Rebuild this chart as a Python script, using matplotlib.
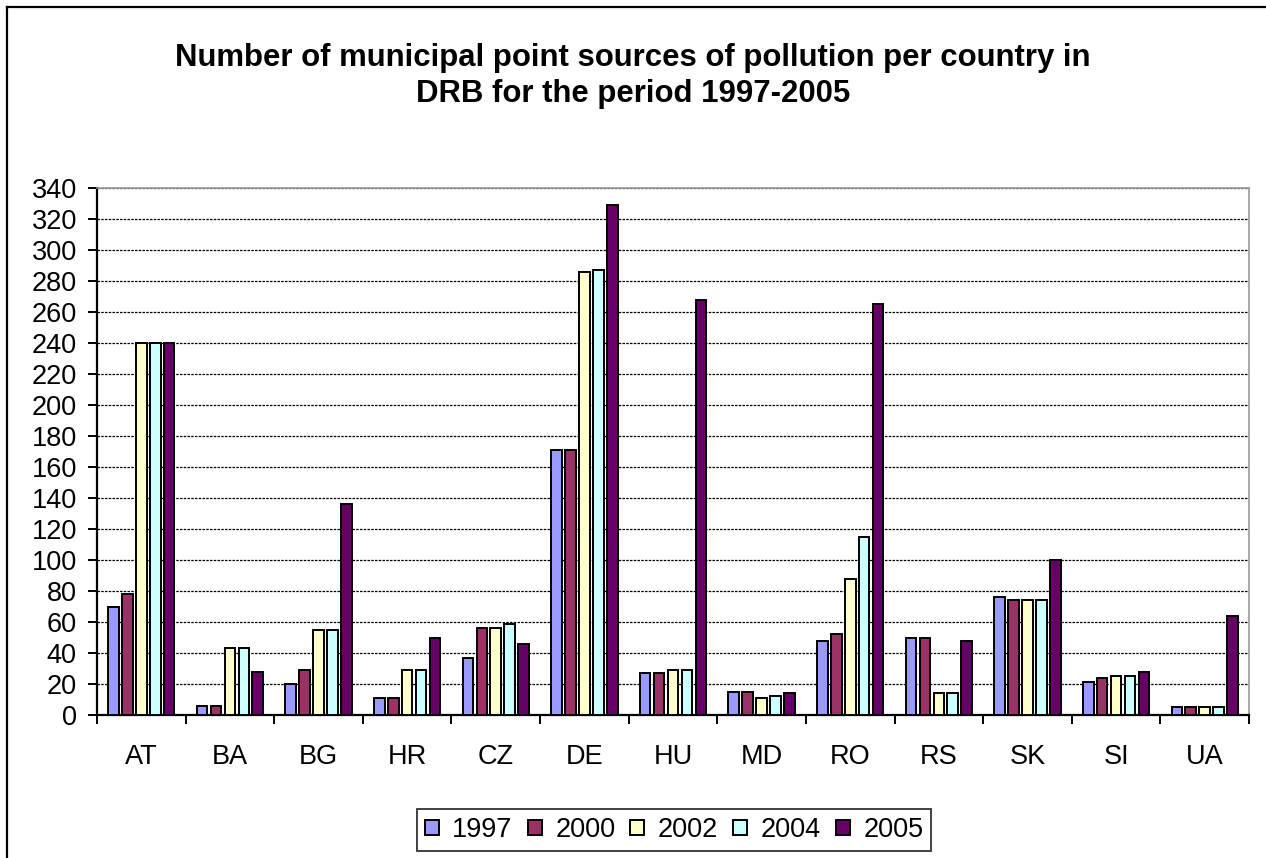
import numpy as np
import matplotlib
matplotlib.use("Agg")
import matplotlib.pyplot as plt
from matplotlib.lines import Line2D

plt.rcParams['font.family'] = ['Liberation Sans', 'DejaVu Sans']

countries = ["AT", "BA", "BG", "HR", "CZ", "DE", "HU", "MD", "RO", "RS", "SK", "SI", "UA"]
years = ["1997", "2000", "2002", "2004", "2005"]

v1997 = [70, 6, 20, 11, 37, 171, 27, 15, 48, 50, 76, 21, 5]
v2000 = [78, 6, 29, 11, 56, 171, 27, 15, 52, 50, 74, 24, 5]
v2002 = [240, 43, 55, 29, 56, 286, 29, 11, 88, 14, 74, 25, 5]
v2004 = [240, 43, 55, 29, 59, 287, 29, 12, 115, 14, 74, 25, 5]
v2005 = [240, 28, 136, 50, 46, 329, 268, 14, 265, 48, 100, 28, 64]

series = [v1997, v2000, v2002, v2004, v2005]
colors = ["#9999FF", "#993366", "#FFFFCC", "#CCFFFF", "#660066"]

W, H = 1266, 858
fig = plt.figure(figsize=(W / 100, H / 100), dpi=100)

# chart frame: only left and top edges fall inside the picture
fig.add_artist(Line2D([7 / W, 7 / W], [0, 1 - 7 / H], transform=fig.transFigure,
                      color="black", linewidth=1.6))
fig.add_artist(Line2D([7 / W, 1], [1 - 7 / H, 1 - 7 / H], transform=fig.transFigure,
                      color="black", linewidth=1.6))

ax = fig.add_axes([97 / W, 1 - 715 / H, (1249 - 97) / W, (715 - 188) / H])

x = np.arange(len(countries))
step = 0.157
bw = 0.12
for i, (vals, c) in enumerate(zip(series, colors)):
    ax.bar(x + (i - 2) * step, vals, width=bw, color=c, edgecolor="black",
           linewidth=1.4, label=years[i], zorder=3)

ax.set_xlim(-0.5, len(countries) - 0.5)
ax.set_ylim(0, 340)
ax.set_yticks(np.arange(0, 341, 20))
ax.yaxis.grid(True, linestyle=(0, (2, 1)), color="black", linewidth=0.9, zorder=0)
ax.set_axisbelow(True)

ax.set_xticks(x)
ax.set_xticklabels(countries)
ax.set_xticks(np.arange(-0.5, len(countries), 1), minor=True)
ax.tick_params(axis="x", which="major", length=0, pad=21, labelsize=19.5)
ax.tick_params(axis="x", which="minor", length=6.5, width=1.4, direction="out")
ax.tick_params(axis="y", length=6.5, width=1.4, direction="out", labelsize=19.5, pad=8)

for side in ["top", "right"]:
    ax.spines[side].set_color("#999999")
    ax.spines[side].set_linewidth(1.2)
for side in ["left", "bottom"]:
    ax.spines[side].set_color("black")
    ax.spines[side].set_linewidth(1.6)

fig.text(633 / W, 1 - 76 / H,
         "Number of municipal point sources of pollution per country in\nDRB for the period 1997-2005",
         ha="center", va="center", fontsize=22.4, fontweight="bold", linespacing=1.23)

leg = fig.legend(loc="center", bbox_to_anchor=(674 / W, 1 - 830 / H), ncol=5,
                 frameon=True, fancybox=False, edgecolor="black", fontsize=19.5,
                 handlelength=0.52, handleheight=0.52, handletextpad=0.5,
                 columnspacing=0.55, borderpad=0.3, borderaxespad=0)
leg.get_frame().set_linewidth(1.3)

fig.savefig("out.png", dpi=100)
